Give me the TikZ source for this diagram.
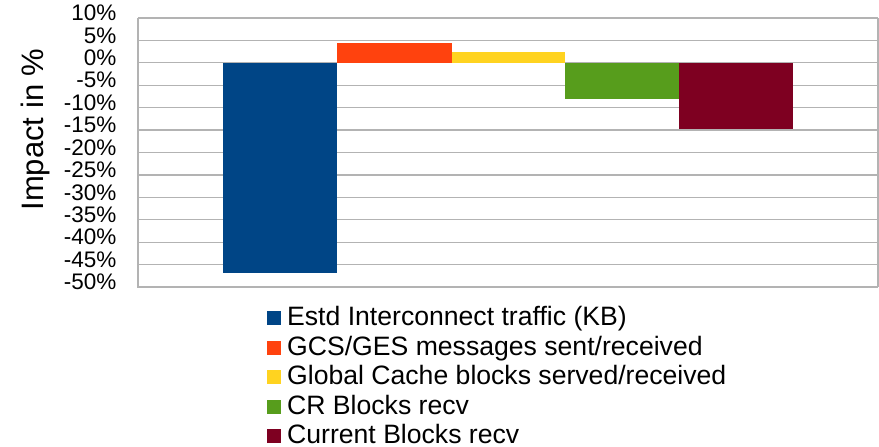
\documentclass[tikz,border=0pt]{standalone}
\usepackage{fontspec}
\setmainfont{Liberation Sans}
\definecolor{gridgray}{RGB}{179,179,179}
\definecolor{cblue}{HTML}{004586}
\definecolor{corange}{HTML}{FF420E}
\definecolor{cyellow}{HTML}{FFD320}
\definecolor{cgreen}{HTML}{579D1C}
\definecolor{cred}{HTML}{7E0021}
\tikzset{
  gridline/.style={draw=gridgray, line width=1.3pt},
  axisline/.style={draw=gridgray, line width=2pt},
  ticklabel/.style={anchor=mid east, inner sep=0pt, font=\fontsize{22.5}{22.5}\selectfont},
  legtext/.style={anchor=base west, inner sep=0pt, font=\fontsize{26.6}{26.6}\selectfont},
  legkey/.style={minimum size=14pt, inner sep=0pt, anchor=south west},
}
\begin{document}
\begin{tikzpicture}[x=1pt, y=-1pt]
  \useasboundingbox (0,0) rectangle (879,447);
  % plot area: 0% at y=62.8, 22.42 per 5%
  \def\zy{62.8}
  \def\st{4.484}
  % horizontal grid
  \foreach \k in {0,...,11} {
    \draw[gridline] (138,{18+\k*22.42}) -- (878,{18+\k*22.42});
  }
  \draw[gridline] (878,18) -- (878,287);
  % bars
  \fill[cblue]   (223,\zy) rectangle (337,{\zy+46.8*\st});
  \fill[corange] (337,{\zy-4.4*\st}) rectangle (451.5,\zy);
  \fill[cyellow] (451.5,{\zy-2.4*\st}) rectangle (565,\zy);
  \fill[cgreen]  (565,\zy) rectangle (679,{\zy+8.0*\st});
  \fill[cred]    (679,\zy) rectangle (793,{\zy+14.7*\st});
  % axes
  \draw[axisline] (138,18) -- (138,287.1) -- (878,287.1);
  % tick labels
  \foreach \v [count=\i from 0] in {10\%,5\%,0\%,-5\%,-10\%,-15\%,-20\%,-25\%,-30\%,-35\%,-40\%,-45\%,-50\%} {
    \node[ticklabel] (tick\i) at (116.5,{18+\i*22.42}) {\v};
  }
  % axis title
  \node[rotate=90, anchor=base, inner sep=0pt, font=\fontsize{31}{31}\selectfont] (ytitle) at (43,129.5) {Impact in \%};
  % legend
  \foreach \c/\t [count=\i from 0] in {cblue/{Estd Interconnect traffic (KB)},
      corange/{GCS/GES messages sent/received},
      cyellow/{Global Cache blocks served/received},
      cgreen/{CR Blocks recv},
      cred/{Current Blocks recv}} {
    \node[legkey, fill=\c] (key\i) at (267,{325.3+\i*29.5}) {};
    \node[legtext] (leg\i) at (287,{325.7+\i*29.5}) {\t};
  }
\end{tikzpicture}
\end{document}
